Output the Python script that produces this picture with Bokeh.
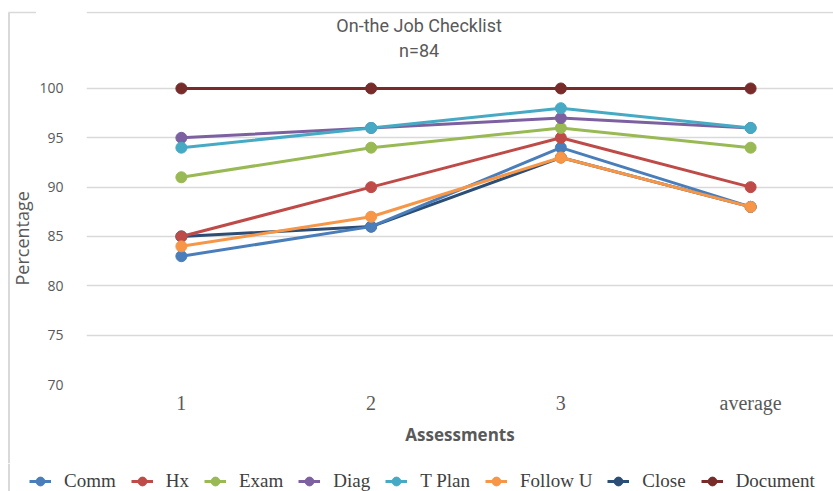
from math import pi
from bokeh.plotting import figure
from bokeh.layouts import row, column
from bokeh.models import Range1d, FixedTicker, Label, Legend, LegendItem, Span
from bokeh.embed import file_html
from bokeh.resources import INLINE

# ---- data ----
categories = ["1", "2", "3", "average"]
series_names = ["Comm", "Hx", "Exam", "Diag", "T Plan", "Follow U", "Close", "Document"]
comm = [83, 86, 94, 88]
hx = [85, 90, 95, 90]
exam = [91, 94, 96, 94]
diag = [95, 96, 97, 96]
tplan = [94, 96, 98, 96]
followu = [84, 87, 93, 88]
close = [85, 86, 93, 88]
document = [100, 100, 100, 100]
y_ticks = [70, 75, 80, 85, 90, 95, 100]

series_values = [comm, hx, exam, diag, tplan, followu, close, document]
colors = ["#4a7ebb", "#be4b48", "#98b954", "#7d60a0", "#46aac5", "#f79646", "#2c4d75", "#772c2a"]
border_color = "#d9d9d9"
text_color = "#595959"

x = list(range(1, len(categories) + 1))

# ---------------- main chart ----------------
MW, MH = 797, 463
p = figure(width=MW, height=MH, output_backend="svg", toolbar_location=None,
           x_range=Range1d(0.5, 0.5 + 748 / 190), y_range=Range1d(70, 107.8),
           min_border_left=49, min_border_right=0, min_border_top=11, min_border_bottom=79)
p.outline_line_color = None
p.background_fill_color = "white"
p.border_fill_color = "white"

p.xgrid.grid_line_color = None
p.ygrid.grid_line_color = border_color
p.ygrid.grid_line_width = 1.5

p.yaxis.ticker = FixedTicker(ticks=y_ticks)
p.yaxis.axis_line_color = None
p.yaxis.major_tick_line_color = None
p.yaxis.minor_tick_line_color = None
p.yaxis.major_label_text_font = "Open Sans"
p.yaxis.major_label_text_font_size = "14px"
p.yaxis.major_label_text_color = text_color
p.yaxis.major_label_standoff = 17

p.xaxis.ticker = FixedTicker(ticks=x)
p.xaxis.major_label_overrides = {i: c for i, c in zip(x, categories)}
p.xaxis.axis_line_color = None
p.xaxis.major_tick_line_color = None
p.xaxis.minor_tick_line_color = None
p.xaxis.major_label_text_font = "Liberation Serif"
p.xaxis.major_label_text_font_size = "20px"
p.xaxis.major_label_text_color = text_color
p.xaxis.major_label_standoff = 1
p.xaxis.axis_label = "Assessments"
p.xaxis.axis_label_text_font = "Open Sans"
p.xaxis.axis_label_text_font_style = "bold"
p.xaxis.axis_label_text_font_size = "17px"
p.xaxis.axis_label_text_color = text_color
p.xaxis.axis_label_standoff = 6

# chart border (top edge)
p.add_layout(Span(location=107.7, dimension="width", line_color=border_color, line_width=1.5))

# series (Close drawn underneath the others)
order = [6, 0, 1, 2, 3, 4, 5, 7]
for i in order:
    p.line(x, series_values[i], line_color=colors[i], line_width=3)
    p.scatter(x, series_values[i], size=11, marker="circle",
              fill_color=colors[i], line_color=colors[i])

title_font = "Roboto"
p.add_layout(Label(x=2.253, y=106.38, text="On-the Job Checklist", text_align="center",
                   text_baseline="middle", text_font=title_font, text_font_size="18px",
                   text_color=text_color))
p.add_layout(Label(x=2.253, y=103.85, text="n=84", text_align="center",
                   text_baseline="middle", text_font=title_font, text_font_size="18px",
                   text_color=text_color))

# ---------------- y-axis title strip ----------------
YW = 36
yl = figure(width=YW, height=MH, output_backend="svg", toolbar_location=None,
            x_range=Range1d(0, YW), y_range=Range1d(0, MH),
            x_axis_type=None, y_axis_type=None,
            min_border_left=0, min_border_right=0, min_border_top=0, min_border_bottom=0)
yl.frame_align = False
yl.outline_line_color = None
yl.xgrid.visible = False
yl.ygrid.visible = False
yl.segment(x0=[8.5], y0=[MH - 12], x1=[8.5], y1=[0], line_color=border_color, line_width=2)
yl.segment(x0=[8], y0=[MH - 12], x1=[YW], y1=[MH - 12], line_color=border_color, line_width=1.5)
yl.add_layout(Label(x=21, y=178, text="Percentage", angle=pi / 2,
                    text_align="left", text_baseline="middle", text_font="Open Sans",
                    text_font_size="18px", text_color=text_color))

# ---------------- legend strip ----------------
LW, LH = YW + MW, 28
lg = figure(width=LW, height=LH, output_backend="svg", toolbar_location=None,
            x_range=Range1d(0, LW), y_range=Range1d(0, 1),
            x_axis_type=None, y_axis_type=None,
            min_border_left=0, min_border_right=0, min_border_top=0, min_border_bottom=0)
lg.frame_align = False
lg.outline_line_color = None
lg.xgrid.visible = False
lg.ygrid.visible = False
lg.add_layout(Span(location=8.5, dimension="height", line_color=border_color, line_width=2))

items = []
for i, name in enumerate(series_names):
    # same series; outside this strip's y range, so only the legend swatch shows
    ln = lg.line(x, series_values[i], line_color=colors[i], line_width=3)
    sc = lg.scatter(x, series_values[i], size=11, marker="circle",
                    fill_color=colors[i], line_color=colors[i])
    items.append(LegendItem(label=name, renderers=[ln, sc]))

legend = Legend(items=items, orientation="horizontal", location=(29, -1),
                glyph_width=22, glyph_height=22, label_standoff=13, spacing=15,
                padding=0, margin=0, border_line_color=None, background_fill_alpha=0,
                label_text_font="Liberation Serif", label_text_font_size="19px",
                label_text_color="#404040", label_height=22)
lg.add_layout(legend, "center")

layout = column(row(yl, p, spacing=0), lg, spacing=0)
open("out.html", "w").write(file_html(layout, INLINE))
